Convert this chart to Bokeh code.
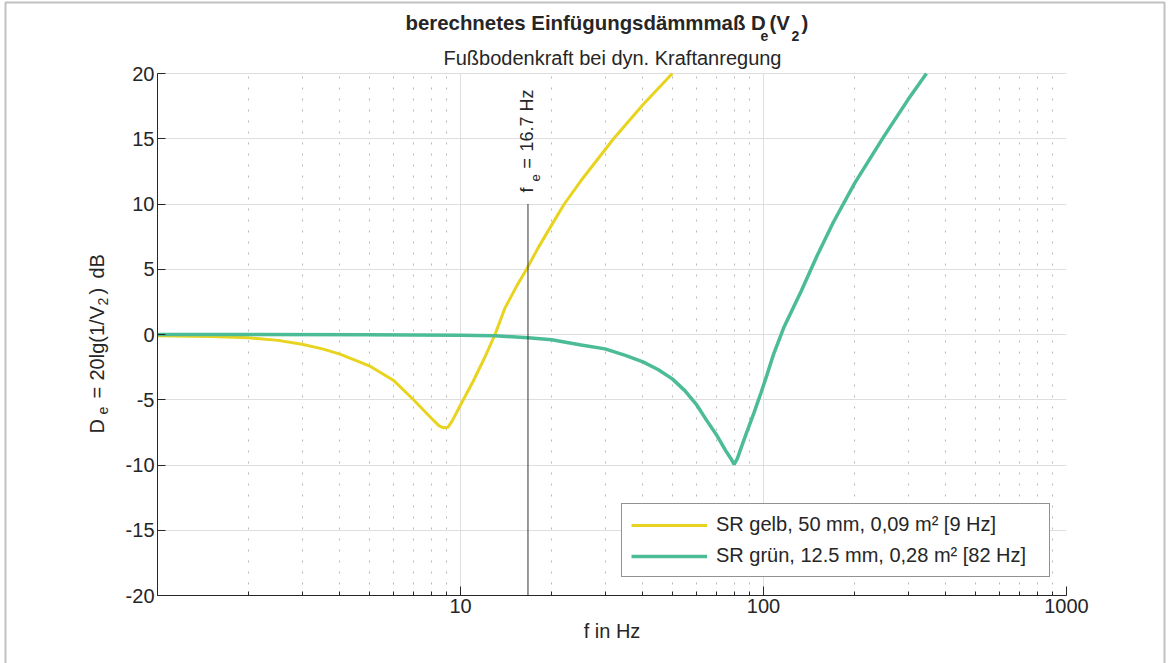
import math
from bokeh.plotting import figure
from bokeh.models import (FixedTicker, Label, Legend, LegendItem, PolyAnnotation,
                          Range1d, NumeralTickFormatter, ColumnDataSource)
from bokeh.embed import file_html
from bokeh.resources import INLINE

# ---------------- data ----------------
freq_gelb = [1.0, 1.5, 2.0, 2.5, 3.0, 3.5, 4.0, 5.0, 6.0, 7.0, 8.0, 8.5, 8.8, 9.1, 9.4,
             10.0, 11.0, 12.0, 13.0, 14.0, 15.4, 16.7, 18.0, 20.0, 22.0, 25.0, 32.0,
             40.0, 50.0]
de_gelb = [-0.1, -0.15, -0.25, -0.45, -0.75, -1.1, -1.5, -2.4, -3.5, -5.0, -6.4, -7.0,
           -7.15, -7.1, -6.6, -5.4, -3.6, -1.8, 0.0, 2.0, 3.8, 5.2, 6.6, 8.4, 10.0,
           11.8, 15.0, 17.6, 20.0]

freq_gruen = [1.0, 2.0, 5.0, 10.0, 13.0, 16.7, 20.0, 25.0, 30.0, 35.0, 40.0, 45.0,
              50.0, 55.0, 60.0, 65.0, 70.0, 75.0, 78.0, 80.0, 82.0, 84.0, 88.0, 93.0,
              98.0, 103.0, 108.0, 117.0, 133.0, 150.0, 170.0, 200.0, 250.0, 300.0,
              345.0]
de_gruen = [0.0, 0.0, -0.02, -0.06, -0.1, -0.25, -0.4, -0.8, -1.1, -1.6, -2.1, -2.7,
            -3.4, -4.3, -5.35, -6.6, -7.7, -8.9, -9.5, -9.95, -9.5, -8.8, -7.5, -6.0,
            -4.5, -3.0, -1.5, 0.6, 3.3, 6.0, 8.6, 11.6, 15.2, 18.0, 20.0]

label_gelb = "SR gelb, 50 mm, 0,09 m\u00b2 [9 Hz]"
label_gruen = "SR gr\u00fcn, 12.5 mm, 0,28 m\u00b2 [82 Hz]"

fe_hz = [16.7]
fe_bottom = [-20.0]
fe_top = [10.0]

x_major = [10, 100, 1000]
x_grid_major = [10, 100]
x_minor = [2, 3, 4, 5, 6, 7, 8, 9, 20, 30, 40, 50, 60, 70, 80, 90,
           200, 300, 400, 500, 600, 700, 800, 900]
y_major = [-20, -15, -10, -5, 0, 5, 10, 15, 20]

# ---------------- layout helpers ----------------
W, H = 1170, 663
FL, FR, FT, FB = 157, 1066, 73, 595          # pixel box of the plotting area
XMIN, XMAX, YMIN, YMAX = 1.0, 1000.0, -20.0, 20.0


def fx(px):
    return 10 ** (math.log10(XMIN) + (px - FL) / (FR - FL) * (math.log10(XMAX) - math.log10(XMIN)))


def fy(py):
    return YMIN + (FB - py) / (FB - FT) * (YMAX - YMIN)


FONT = "Liberation Sans"
DARK = "#262626"
YELLOW = "#E8D41F"
TEAL = "#4CBB97"

# the frame covers the whole canvas; axes are pinned at the data box
p = figure(width=W, height=H, x_axis_type="log", output_backend="svg",
           toolbar_location=None, title=None,
           x_range=Range1d(fx(0), fx(W)), y_range=Range1d(fy(H), fy(0)),
           min_border=0, min_border_left=0, min_border_right=0,
           min_border_top=0, min_border_bottom=0)
p.outline_line_color = None
p.background_fill_color = "white"
p.border_fill_color = "white"

# axes
p.xaxis.fixed_location = YMIN
p.yaxis.fixed_location = XMIN
p.xaxis.bounds = (XMIN, XMAX)
p.yaxis.bounds = (YMIN, YMAX)
p.xaxis.ticker = FixedTicker(ticks=x_major, minor_ticks=x_minor)
p.xaxis.formatter = NumeralTickFormatter(format="0")
p.yaxis.ticker = FixedTicker(ticks=y_major)
p.yaxis.formatter = NumeralTickFormatter(format="0")
for ax in (p.xaxis, p.yaxis):
    ax.axis_line_color = DARK
    ax.major_tick_line_color = DARK
    ax.minor_tick_line_color = DARK
    ax.major_tick_out = 0
    ax.minor_tick_out = 0
    ax.major_label_text_font = FONT
    ax.major_label_text_font_size = "20px"
    ax.major_label_text_color = DARK
    ax.axis_label_text_font = FONT
    ax.axis_label_text_font_size = "20px"
    ax.axis_label_text_font_style = "normal"
    ax.axis_label_text_color = DARK
p.xaxis.major_tick_in = 9
p.xaxis.minor_tick_in = 4
p.yaxis.major_tick_in = 8
p.yaxis.minor_tick_in = 0
p.xaxis.major_label_standoff = 3
p.yaxis.major_label_standoff = 3
p.xaxis.axis_label = "f in Hz"
p.xaxis.axis_label_standoff = 4

# grids
p.xgrid.ticker = FixedTicker(ticks=x_grid_major, minor_ticks=x_minor)
p.xgrid.grid_line_color = "#dedede"
p.xgrid.minor_grid_line_color = "#b8b8b8"
p.xgrid.minor_grid_line_dash = "2 9"
p.ygrid.ticker = FixedTicker(ticks=y_major)
p.ygrid.grid_line_color = "#dedede"
p.xgrid.bounds = (XMIN, XMAX)
p.ygrid.bounds = (YMIN, YMAX)
p.xgrid.cross_bounds = (YMIN, YMAX)
p.ygrid.cross_bounds = (XMIN, XMAX)

# curves
src_g = ColumnDataSource(dict(f=freq_gelb, d=de_gelb))
src_t = ColumnDataSource(dict(f=freq_gruen, d=de_gruen))
r_g = p.line("f", "d", source=src_g, line_color=YELLOW, line_width=3)
r_t = p.line("f", "d", source=src_t, line_color=TEAL, line_width=3.5)

# f_e line
p.segment(x0=fe_hz, y0=fe_bottom, x1=fe_hz, y1=fe_top, line_color="#333333", line_width=1)

# legend (location in pixels from the bottom-left of the canvas-sized frame)
legend = Legend(items=[LegendItem(label=label_gelb, renderers=[r_g]),
                       LegendItem(label=label_gruen, renderers=[r_t])],
                location=(621, H - 577), orientation="vertical")
legend.label_text_font = FONT
legend.label_text_font_size = "20px"
legend.label_text_color = DARK
legend.glyph_width = 76
legend.glyph_height = 22
legend.label_height = 22
legend.label_width = 324
legend.label_standoff = 9
legend.spacing = 8
legend.padding = 9
legend.margin = 0
legend.border_line_color = DARK
legend.border_line_width = 1
legend.background_fill_color = "white"
legend.background_fill_alpha = 1.0
p.add_layout(legend, "center")

MID = 0.35  # distance (in em) from the alphabetic baseline up to the middle anchor


def lab(text, px, py, size, style="normal", align="left"):
    """horizontal text; (px, py) = start of its baseline in pixels"""
    p.add_layout(Label(x=fx(px), y=fy(py - MID * size), text=text, text_font=FONT,
                       text_font_size=f"{size}px", text_font_style=style,
                       text_color=DARK, text_align=align, text_baseline="middle"))


def vlab(text, px, py, size):
    """text rotated by 90 degrees; (px, py) = start of its baseline in pixels"""
    p.add_layout(Label(x=fx(px - MID * size), y=fy(py), text=text, text_font=FONT,
                       text_font_size=f"{size}px", text_color=DARK, text_align="left",
                       text_baseline="middle", angle=math.pi / 2))


# title with subscripts
lab("berechnetes Einf\u00fcgungsd\u00e4mmma\u00df D", 405, 30, 20.4, "bold")
lab("e", 760, 40, 14, "bold")
lab("(V", 769, 30, 20.4, "bold")
lab("2", 791, 40, 14, "bold")
lab(")", 801, 30, 20.4, "bold")
# subtitle
lab("Fu\u00dfbodenkraft bei dyn. Kraftanregung", 612, 64, 20, "normal", "center")

# y-axis label (rotated) with subscripts
vlab("D", 103, 433, 20)
vlab("e", 107, 414, 14)
vlab("=", 103, 398, 20)
vlab("20lg(1/V", 103, 380, 20)
vlab("2", 107, 305, 14)
vlab(")", 103, 294, 20)
vlab("dB", 103, 278, 20)

# f_e label (rotated)
vlab("f", 533, 192, 18)
vlab("e", 540, 181, 13)
vlab("=", 533, 168, 18)
vlab("16.7 Hz", 533, 151, 18)

# outer frame of the picture
p.add_layout(PolyAnnotation(xs=[fx(5), fx(1164), fx(1164), fx(5)],
                            ys=[fy(2), fy(2), fy(680), fy(680)],
                            fill_alpha=0, line_color="#333333", line_width=2))

open("out.html", "w").write(file_html(p, INLINE))
